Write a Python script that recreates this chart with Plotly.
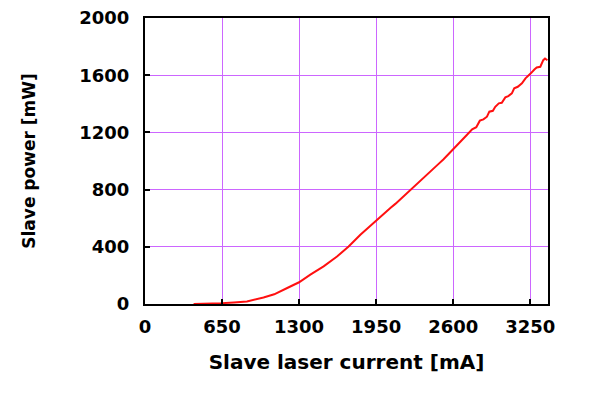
import plotly.graph_objects as go

current_mA = [410, 500, 600, 650, 750, 860, 1000, 1090, 1200, 1300, 1395, 1507, 1620, 1718,
              1817, 1901, 1985, 2070, 2112, 2154, 2238, 2281, 2323, 2365, 2407, 2477, 2519,
              2600, 2660, 2715, 2760, 2795, 2825, 2855, 2885,
              2905, 2935, 2955, 2985, 3010, 3040, 3065, 3095, 3115, 3145, 3180, 3210, 3235,
              3255, 3285, 3305, 3335, 3360, 3375, 3395]
power_mW = [0, 1, 3, 6, 11, 18, 46, 68, 112, 152, 205, 263, 332, 402,
            484, 548, 607, 672, 700, 733, 798, 830, 860, 893, 926, 980, 1012,
            1080, 1135, 1182, 1222, 1236, 1282, 1291, 1310,
            1345, 1351, 1379, 1403, 1407, 1445, 1454, 1473, 1508, 1519, 1543, 1578, 1594,
            1613, 1640, 1654, 1659, 1705, 1717, 1705]

x_ticks = [0, 650, 1300, 1950, 2600, 3250]
y_ticks = [0, 400, 800, 1200, 1600, 2000]

fig = go.Figure()
fig.add_trace(go.Scatter(x=current_mA, y=power_mW, mode="lines",
                         line=dict(color="#ff1010", width=2), showlegend=False,
                         hoverinfo="skip"))

tickfont = dict(family="DejaVu Sans", size=18, color="black", weight="bold")
common = dict(showgrid=True, gridcolor="#cc66ff", gridwidth=1, zeroline=False,
              showline=True, linecolor="#000000", linewidth=2, mirror=True,
              ticks="inside", ticklen=5, tickcolor="#000000", tickwidth=2,
              tickfont=tickfont, automargin=False, ticklabeloverflow="allow")

fig.update_layout(
    width=601, height=390,
    margin=dict(l=137, r=61, t=10, b=94),
    paper_bgcolor="white", plot_bgcolor="white",
    xaxis=dict(range=[0, 3400], tickvals=x_ticks, ticklabelstandoff=5,
               title=dict(text="Slave laser current [mA]", standoff=19,
                          font=dict(family="DejaVu Sans", size=20, color="black", weight="bold")),
               **common),
    yaxis=dict(range=[0, 2000], tickvals=y_ticks, ticklabelstandoff=10,
               title=dict(text="Slave power [mW]", standoff=39,
                          font=dict(family="DejaVu Sans", size=17, color="black", weight="bold")),
               **common),
)

fig.write_html("out.html")
